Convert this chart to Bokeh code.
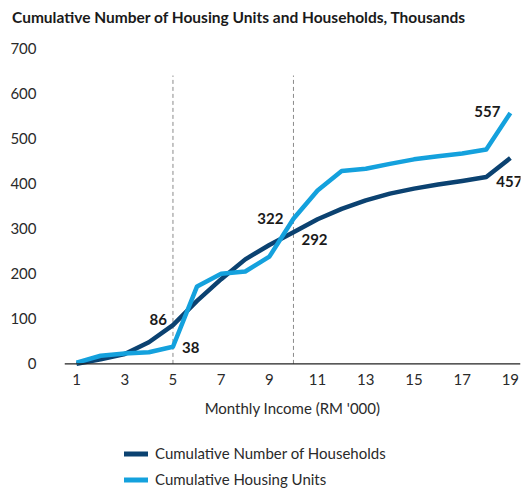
from bokeh.plotting import figure
from bokeh.layouts import column
from bokeh.models import (ColumnDataSource, Span, Legend, LegendItem, Range1d,
                          FixedTicker, Label, Div)
from bokeh.embed import file_html
from bokeh.resources import INLINE

# ---- data ----
income = list(range(1, 20))
households = [0, 10, 22, 48, 86, 140, 188, 232, 264, 292, 321, 344, 363, 378, 389, 398, 406, 415, 457]
housing_units = [3, 18, 23, 26, 38, 172, 200, 205, 238, 322, 385, 428, 433, 444, 454, 461, 467, 476, 557]
x_ticks = [1, 3, 5, 7, 9, 11, 13, 15, 17, 19]
y_ticks = [0, 100, 200, 300, 400, 500, 600, 700]
marker_incomes = [5, 10]
marker_top = 640
label_series = ["households", "housing", "housing", "households", "housing", "households"]
label_idx = [4, 4, 9, 9, 18, 18]
series_names = ["Cumulative Number of Households", "Cumulative Housing Units"]
title_text = "Cumulative Number of Housing Units and Households, Thousands"

DARK = "#0b4271"
LIGHT = "#14a1dd"
FONT = "Lato"
TXT = "#2a2a2a"

title_div = Div(text=title_text, width=522, height=30, margin=(0, 0, 0, 0),
                styles={"font-family": "Lato", "font-weight": "bold", "font-size": "15.5px",
                        "color": "#1a1a1a", "padding-left": "12px", "padding-top": "8px",
                        "line-height": "18px", "white-space": "nowrap"})

p = figure(width=522, height=400, output_backend="svg", toolbar_location=None,
           x_range=Range1d(0.5, 19.42), y_range=Range1d(-8, 700),
           min_border_left=64, min_border_right=2, min_border_top=18, min_border_bottom=63)
p.outline_line_color = None
p.grid.visible = False

src = ColumnDataSource(dict(x=income, hh=households, hu=housing_units))

# dashed markers
p.segment(x0=marker_incomes, x1=marker_incomes, y0=[0, 0], y1=[marker_top, marker_top],
          line_color="#8a8a8a", line_width=1, line_dash="4 3")

r1 = p.line("x", "hh", source=src, line_color=DARK, line_width=4.5, line_join="round")
r2 = p.line("x", "hu", source=src, line_color=LIGHT, line_width=4.5, line_join="round")

p.add_layout(Span(location=0, dimension="width", line_color="#222222", line_width=1.2))

# axes
p.xaxis.ticker = FixedTicker(ticks=x_ticks)
p.yaxis.ticker = FixedTicker(ticks=y_ticks)
for ax in (p.xaxis[0], p.yaxis[0]):
    ax.axis_line_color = None
    ax.major_tick_line_color = None
    ax.minor_tick_line_color = None
    ax.major_tick_out = 0
    ax.major_tick_in = 0
    ax.minor_tick_out = 0
    ax.major_label_text_font = FONT
    ax.major_label_text_font_size = "15px"
    ax.major_label_text_color = TXT
p.yaxis.major_label_standoff = 28
p.xaxis.major_label_standoff = 6
p.xaxis.axis_label = "Monthly Income (RM '000)"
p.xaxis.axis_label_text_font = FONT
p.xaxis.axis_label_text_font_style = "normal"
p.xaxis.axis_label_text_font_size = "15px"
p.xaxis.axis_label_text_color = TXT
p.xaxis.axis_label_standoff = 11

# value labels
offsets = [(-6, 6, "right"), (9, -1, "left"), (-10, 0, "right"), (8, -7, "left"),
           (-10, 1, "right"), (-1, -24, "center")]
series = {"households": households, "housing": housing_units}
for s, i, (dx, dy, al) in zip(label_series, label_idx, offsets):
    v = series[s][i]
    p.add_layout(Label(x=income[i], y=v, text=str(v), x_offset=dx, y_offset=dy,
                       text_align=al, text_baseline="middle", text_font=FONT,
                       text_font_style="bold", text_font_size="15px", text_color="#1a1a1a"))

# legend strip below the chart
p2 = figure(width=522, height=58, output_backend="svg", toolbar_location=None,
            x_range=Range1d(-100, -99), y_range=Range1d(-100, -99),
            x_axis_type=None, y_axis_type=None, min_border=0)
p2.outline_line_color = None
p2.grid.visible = False
l1 = p2.line(income, households, line_color=DARK, line_width=5, line_cap="round")
l2 = p2.line(income, housing_units, line_color=LIGHT, line_width=5, line_cap="round")
legend = Legend(items=[LegendItem(label=series_names[0], renderers=[l1]),
                       LegendItem(label=series_names[1], renderers=[l2])],
                location=(60, 0), orientation="vertical", border_line_color=None,
                background_fill_alpha=0, label_text_font=FONT, label_text_font_size="15px",
                label_text_color=TXT, glyph_width=24, glyph_height=17, spacing=8,
                padding=0, margin=0, label_standoff=7)
p2.add_layout(legend, "center")

layout = column(title_div, p, p2, spacing=0)
open("out.html", "w").write(file_html(layout, INLINE))
